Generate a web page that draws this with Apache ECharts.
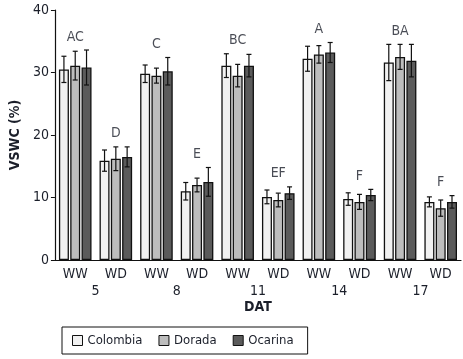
<!DOCTYPE html>
<html>
<head>
<meta charset="utf-8">
<script src="https://cdn.jsdelivr.net/npm/echarts@6/dist/echarts.min.js"></script>
<style>
  html, body { margin: 0; padding: 0; background: #fff; }
  #chart { width: 463px; height: 359px; }
</style>
</head>
<body>
<div id="chart"></div>
<script>
  // water treatment per measuring day
  const categories = ['WW', 'WD', 'WW', 'WD', 'WW', 'WD', 'WW', 'WD', 'WW', 'WD']
  const days = ['5', '8', '11', '14', '17']
  const letters = ['AC', 'D', 'C', 'E', 'BC', 'EF', 'A', 'F', 'BA', 'F']

  const colombia = [30.5, 15.9, 29.8, 11.0, 31.1, 10.1, 32.2, 9.75, 31.6, 9.3]
  const colombiaErr = [2.1, 1.7, 1.4, 1.4, 1.9, 1.1, 2.0, 1.0, 2.9, 0.8]
  const dorada = [31.1, 16.2, 29.5, 12.0, 29.5, 9.6, 32.9, 9.3, 32.5, 8.3]
  const doradaErr = [2.3, 1.9, 1.2, 1.1, 1.8, 1.1, 1.4, 1.2, 2.0, 1.3]
  const ocarina = [30.8, 16.5, 30.2, 12.5, 31.1, 10.7, 33.2, 10.4, 31.9, 9.3]
  const ocarinaErr = [2.8, 1.6, 2.2, 2.3, 1.8, 1.0, 1.6, 0.9, 2.6, 1.0]

  const yTicks = [0, 10, 20, 30, 40]

  const font = "'DejaVu Sans Condensed', 'Liberation Sans', sans-serif"
  const textColor = '#1b1f2a'
  const barW = 10
  const step = 11.3

  const groups = [
    { name: 'Colombia', data: colombia, err: colombiaErr, color: '#f1f1f1' },
    { name: 'Dorada', data: dorada, err: doradaErr, color: '#bdbdbd' },
    { name: 'Ocarina', data: ocarina, err: ocarinaErr, color: '#5b5b5b' }
  ]

  let chart = echarts.init(document.getElementById('chart'))

  let series = []
  groups.forEach(function(g) {
    series.push({
      name: g.name,
      type: 'bar',
      barWidth: barW,
      barGap: '13%',
      data: g.data,
      itemStyle: { color: g.color, borderColor: '#111', borderWidth: 1.3 },
      emphasis: { disabled: true }
    })
  })

  groups.forEach(function(g, k) {
    let errData = g.data.map(function(v, i) { return [i, v - g.err[i], v + g.err[i]] })
    series.push({
      type: 'custom',
      silent: true,
      z: 5,
      data: errData,
      encode: { x: 0, y: [1, 2] },
      renderItem: function(params, api) {
        let lo = api.coord([api.value(0), api.value(1)])
        let hi = api.coord([api.value(0), api.value(2)])
        let x = lo[0] + (k - 1) * step
        let cap = 2.5
        let style = { stroke: '#111', lineWidth: 1.2 }
        return {
          type: 'group',
          children: [
            { type: 'line', shape: { x1: x, y1: lo[1], x2: x, y2: hi[1] }, style: style },
            { type: 'line', shape: { x1: x - cap, y1: lo[1], x2: x + cap, y2: lo[1] }, style: style },
            { type: 'line', shape: { x1: x - cap, y1: hi[1], x2: x + cap, y2: hi[1] }, style: style }
          ]
        }
      }
    })
  })

  // significance letters above each group
  let letterData = letters.map(function(l, i) {
    let top = Math.max(colombia[i] + colombiaErr[i], dorada[i] + doradaErr[i], ocarina[i] + ocarinaErr[i])
    return { value: [i, top + 2.1], label: l }
  })
  series.push({
    type: 'scatter',
    symbolSize: 0,
    silent: true,
    data: letterData,
    label: {
      show: true,
      position: 'inside',
      formatter: function(p) { return p.data.label },
      fontFamily: font,
      fontSize: 14,
      color: textColor
    }
  })

  let options = {
    animation: false,
    textStyle: { fontFamily: font },
    grid: { left: 52, right: 2, top: 10, bottom: 99 },
    legend: {
      data: groups.map(function(g) { return g.name }),
      left: 62,
      top: 327,
      padding: [7, 14, 7, 10],
      itemWidth: 10,
      itemHeight: 10,
      itemGap: 16,
      borderColor: '#111',
      borderWidth: 1,
      icon: 'rect',
      selectedMode: false,
      itemStyle: { borderColor: '#111', borderWidth: 1 },
      textStyle: { fontFamily: font, fontSize: 13, color: textColor }
    },
    xAxis: [{
      type: 'category',
      data: categories,
      axisLine: { lineStyle: { color: '#111', width: 1.2 } },
      axisTick: { length: 5, lineStyle: { color: '#111' } },
      axisLabel: { fontFamily: font, fontSize: 14, color: textColor, margin: 7 },
      name: 'DAT',
      nameLocation: 'middle',
      nameGap: 40,
      nameTextStyle: { fontFamily: font, fontSize: 14, fontWeight: 'bold', color: textColor }
    }, {
      type: 'category',
      data: days,
      position: 'bottom',
      offset: 17,
      axisLine: { show: false },
      axisTick: { show: false },
      axisLabel: { fontFamily: font, fontSize: 14, color: textColor, margin: 7 }
    }],
    yAxis: {
      type: 'value',
      min: yTicks[0],
      max: yTicks[yTicks.length - 1],
      interval: 10,
      name: 'VSWC (%)',
      nameLocation: 'middle',
      nameGap: 30,
      nameTextStyle: { fontFamily: font, fontSize: 14, fontWeight: 'bold', color: textColor },
      axisLine: { show: true, lineStyle: { color: '#111', width: 1.2 } },
      axisTick: { show: true, length: 4, lineStyle: { color: '#111' } },
      axisLabel: { fontFamily: font, fontSize: 14, color: textColor, margin: 6 },
      splitLine: { show: false }
    },
    series: series
  }

  chart.setOption(options, true)
</script>
</body>
</html>
